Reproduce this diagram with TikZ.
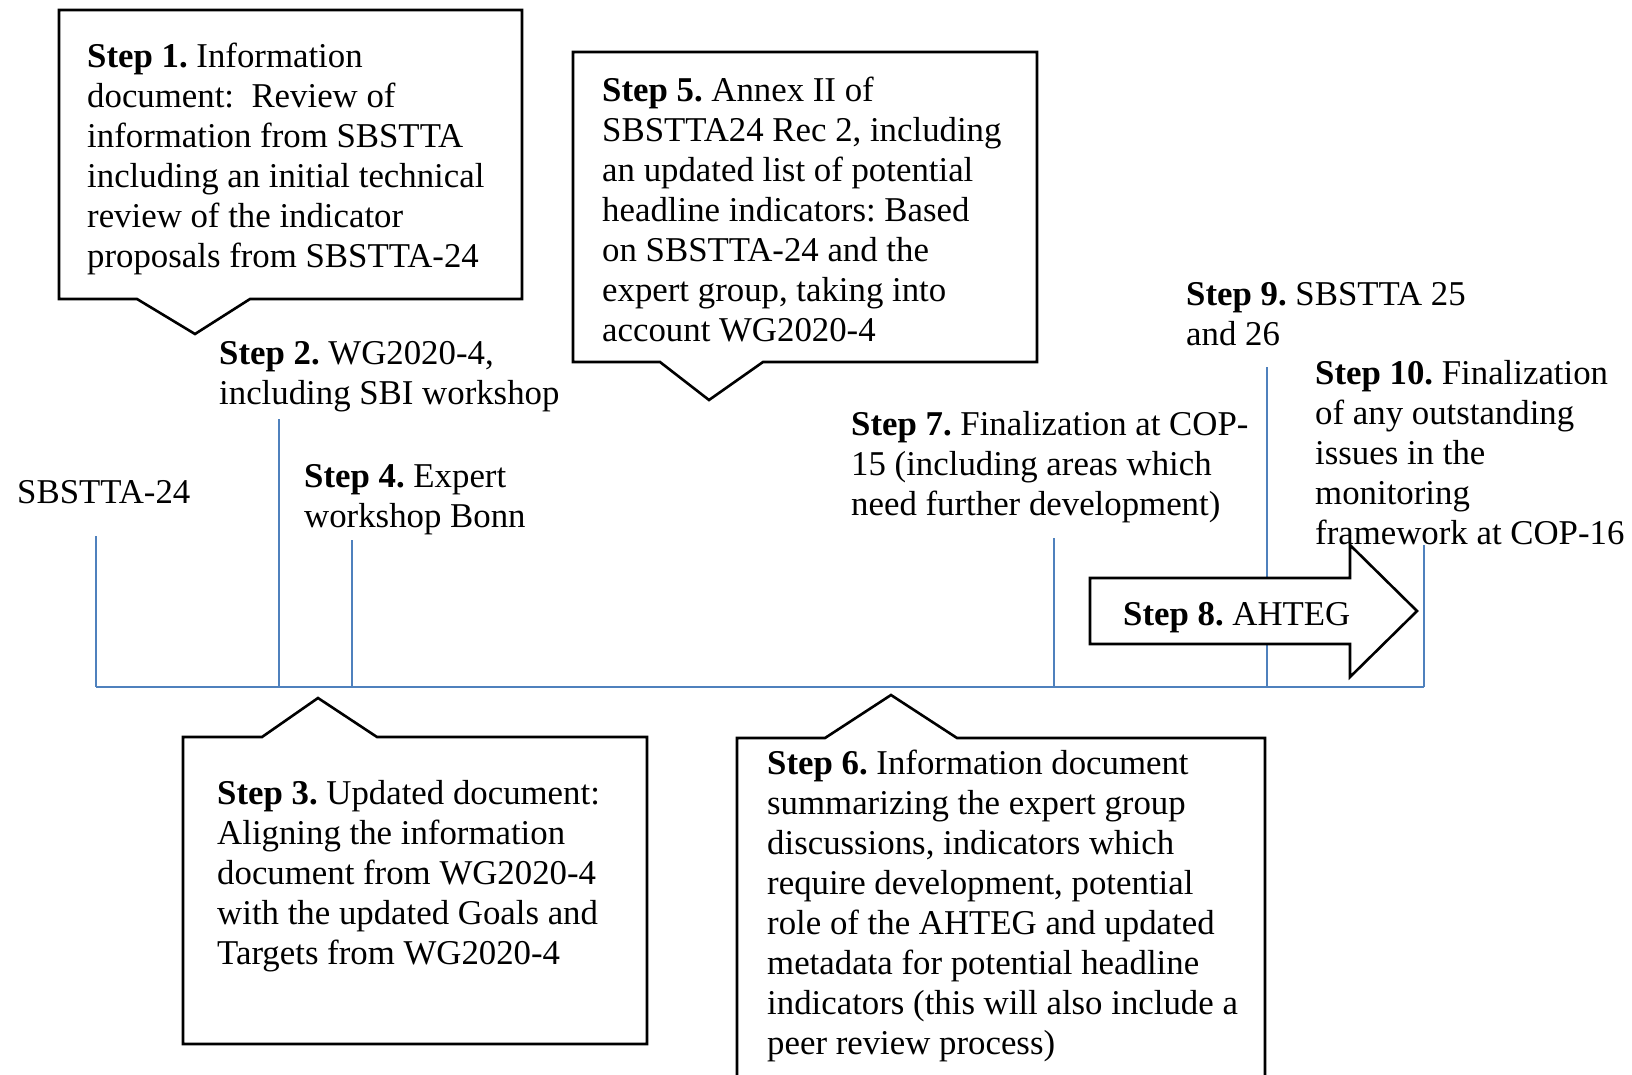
\documentclass[tikz,border=0pt]{standalone}
\usepackage{fontspec}
\setmainfont{Liberation Serif}
\definecolor{tlblue}{RGB}{79,129,189}
\frenchspacing
\begin{document}
\begin{tikzpicture}[x=1pt,y=-1pt,
  txt/.style={anchor=north west, inner sep=0pt, align=left, font=\fontsize{34.8}{40}\selectfont\frenchspacing},
  callout/.style={draw=black, line width=2.6pt, fill=white, line join=miter},
  tick/.style={draw=tlblue, line width=2.8pt},
]
\fill[white] (0,0) rectangle (1632,1074);
\useasboundingbox (0,0) rectangle (1632,1074);

% callout boxes
\draw[callout] (59,10) -- (522,10) -- (522,299) -- (250,299) -- (195,334) -- (137,299) -- (59,299) -- cycle;
\draw[callout] (573,52) -- (1037,52) -- (1037,362) -- (763,362) -- (709,400) -- (660,362) -- (573,362) -- cycle;
\draw[callout] (183,737) -- (262,737) -- (318,698) -- (377,737) -- (647,737) -- (647,1044) -- (183,1044) -- cycle;
\fill[white] (737,1100) -- (737,738) -- (825,738) -- (891,695) -- (957,738) -- (1265,738) -- (1265,1100) -- cycle;
\draw[callout, fill=none] (737,1100) -- (737,738) -- (825,738) -- (891,695) -- (957,738) -- (1265,738) -- (1265,1100);

% timeline
\coordinate (base0) at (96,687);
\coordinate (base1) at (1424,687);
\draw[tick] (base0) -- (base1);
\coordinate (k0) at (96,536);
\coordinate (k2) at (279,419);
\coordinate (k4) at (352,540);
\coordinate (k7) at (1054,538);
\coordinate (k9) at (1267,367);
\coordinate (k10) at (1424,545);
\foreach \k in {k0,k2,k4,k7,k9,k10} \draw[tick] (\k) -- (\k |- base0);

% texts
\node[txt] (s1) at (87,39) {\strut\textbf{Step 1.} Information\\document:\ \ Review of\\information from SBSTTA\\including an initial technical\\review of the indicator\\proposals from SBSTTA-24};
\node[txt] (s2) at (219,336) {\strut\textbf{Step 2.} WG2020-4,\\including SBI workshop};
\node[txt] (sb) at (17,475) {\strut SBSTTA-24};
\node[txt] (s4) at (304,459) {\strut\textbf{Step 4.} Expert\\workshop Bonn};
\node[txt] (s5) at (602,73) {\strut\textbf{Step 5.} Annex II of\\SBSTTA24 Rec 2, including\\an updated list of potential\\headline indicators: Based\\on SBSTTA-24 and the\\expert group, taking into\\account WG2020-4};
\node[txt] (s7) at (851,407) {\strut\textbf{Step 7.} Finalization at COP-\\15 (including areas which\\need further development)};
\node[txt] (s9) at (1186,277) {\strut\textbf{Step 9.} SBSTTA 25\\and 26};
\node[txt] (s10) at (1315,356) {\strut\textbf{Step 10.} Finalization\\of any outstanding\\issues in the\\monitoring\\framework at COP-16};
\node[txt] (s3) at (217,776) {\strut\textbf{Step 3.} Updated document:\\Aligning the information\\document from WG2020-4\\with the updated Goals and\\Targets from WG2020-4};
\node[txt] (s6) at (767,746) {\strut\textbf{Step 6.} Information document\\summarizing the expert group\\discussions, indicators which\\require development, potential\\role of the AHTEG and updated\\metadata for potential headline\\indicators (this will also include a\\peer review process)};

% step 8 arrow
\draw[callout] (1090,578) -- (1350,578) -- (1350,545) -- (1417,611) -- (1350,677) -- (1350,644) -- (1090,644) -- cycle;
\node[txt] (s8) at (1123,597) {\strut\textbf{Step 8.} AHTEG};
\end{tikzpicture}
\end{document}
